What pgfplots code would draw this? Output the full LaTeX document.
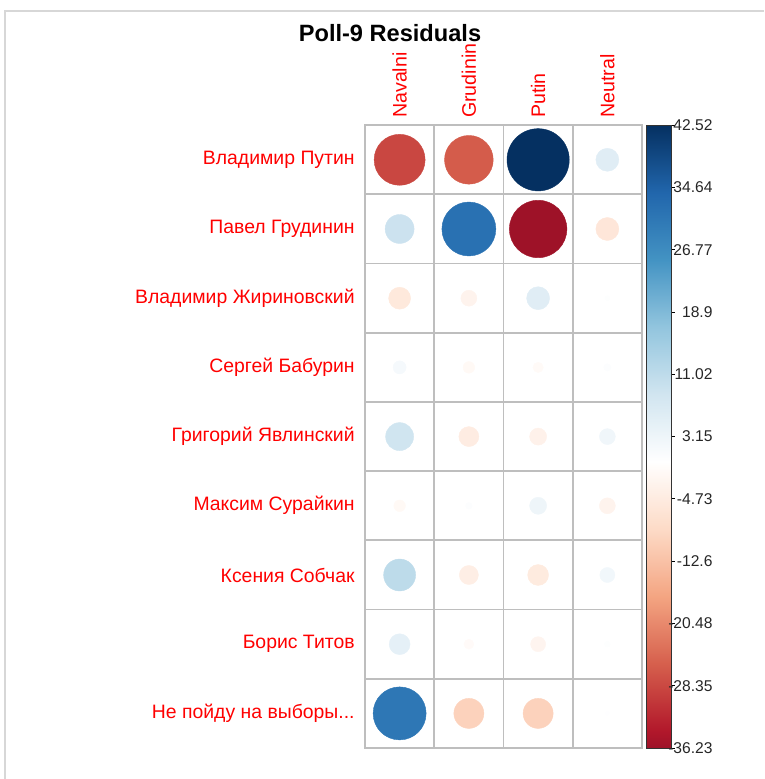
\documentclass[border=0pt]{standalone}
\usepackage{pgfplots}
\usepackage{pgfplotstable}
\pgfplotsset{compat=1.18}
\usepackage{fontspec}
\setmainfont{Liberation Sans}

\definecolor{gridgray}{RGB}{190,190,190}
\definecolor{framegray}{RGB}{215,215,215}
\definecolor{labelred}{RGB}{255,0,0}

% Pearson residuals: column (1..4) x row (1 = bottom .. 9 = top)
\pgfplotstableread{
x y v
1 9 -28.5
2 9 -26.0
3 9 42.52
4 9 5.8
1 8 9.2
2 8 31.9
3 8 -36.23
4 8 -5.8
1 7 -5.3
2 7 -2.8
3 7 5.8
4 7 0.3
1 6 1.9
2 6 -1.5
3 6 -1.2
4 6 0.6
1 5 8.6
2 5 -4.4
3 5 -3.2
4 5 2.8
1 4 -1.5
2 4 0.5
3 4 3.2
4 4 -2.8
1 3 11.2
2 3 -4.0
3 3 -4.8
4 3 2.5
1 2 4.8
2 2 -1.1
3 2 -2.5
4 2 0.4
1 1 30.8
2 1 -9.9
3 1 -9.9
4 1 0.2
}\residuals

% RdBu diverging palette, white at zero, shown from -36.23 to 42.52
\pgfplotsset{
  colormap={rdbu}{
    rgb255(0pt)=(158,18,40);
    rgb255(2.214pt)=(178,24,43);
    rgb255(10.718pt)=(214,96,77);
    rgb255(19.222pt)=(244,165,130);
    rgb255(27.726pt)=(253,219,199);
    rgb255(36.23pt)=(255,255,255);
    rgb255(44.734pt)=(209,229,240);
    rgb255(53.238pt)=(146,197,222);
    rgb255(61.742pt)=(67,147,195);
    rgb255(70.246pt)=(33,102,172);
    rgb255(78.75pt)=(5,48,97)
  }
}

\begin{document}
\begin{tikzpicture}
\useasboundingbox (-182.5pt,-15.5pt) rectangle (199.5pt,374pt);
\draw[draw=framegray, line width=1pt] (-179.8pt,-15.5pt) -- (-179.8pt,368.65pt) -- (199.5pt,368.65pt);
\begin{axis}[
  x=34.625pt, y=34.6pt,
  xmin=0.5, xmax=4.5, ymin=0.5, ymax=9.5,
  axis line style={draw=gridgray, line width=0.9pt},
  xtick={1,2,3,4},
  xticklabels={Navalni,Grudinin,Putin,Neutral},
  ytick={1,2,3,4,5,6,7,8,9},
  yticklabels={Не пойду на выборы.\kern0pt.\kern0pt.,Борис Титов,Ксения Собчак,Максим Сурайкин,Григорий Явлинский,Сергей Бабурин,Владимир Жириновский,Павел Грудинин,Владимир Путин},
  xticklabel pos=upper,
  minor xtick={1.5,2.5,3.5},
  minor ytick={1.5,2.5,3.5,4.5,5.5,6.5,7.5,8.5},
  xminorgrids, yminorgrids,
  minor grid style={draw=gridgray, line width=0.9pt},
  major tick length=0pt, minor tick length=0pt,
  xticklabel style={rotate=90, anchor=west, inner sep=0pt, text=labelred,
    font=\fontsize{9.8}{11}\selectfont},
  yticklabel style={anchor=east, inner sep=0pt, text=labelred,
    font=\fontsize{9.7}{11}\selectfont},
  xticklabel shift=3.5pt, yticklabel shift=5pt,
  colormap name=rdbu,
  point meta min=-36.23, point meta max=42.52,
  colorbar,
  colorbar style={
    at={(parent axis.north east)}, anchor=north west, xshift=-6.5pt,
    width=12.8pt,
    axis line style={draw=black!80, line width=0.4pt},
    xminorgrids=false, yminorgrids=false,
    minor ytick={},
    ytick pos=right,
    ytick={-36.23,-28.35,-20.48,-12.6,-4.73,3.15,11.02,18.9,26.77,34.64,42.52},
    yticklabels={-36.23,-28.35,-20.48,-12.6,-4.73,3.15,11.02,18.9,26.77,34.64,42.52},
    major tick length=1.6pt, tick align=outside,
    major tick style={draw=black, line width=0.5pt},
    yticklabel shift=0pt,
    yticklabel style={anchor=east, inner sep=0pt, xshift=19pt,
      text=black!85, font=\fontsize{7.8}{9}\selectfont},
  },
]
\addplot[scatter, only marks, mark=*, point meta=explicit,
  scatter/use mapped color={draw=mapped color, fill=mapped color},
  visualization depends on={15.57*sqrt(abs(\thisrow{v})/42.52) \as \rad},
  scatter/@pre marker code/.append style={/tikz/mark size=\rad pt},
  mark options={line width=0.2pt}]
  table[x=x, y=y, meta=v] {\residuals};
\end{axis}
\node[font=\bfseries\fontsize{11.8}{14}\selectfont] at (12.5pt,357.5pt) {Poll-9 Residuals};
\end{tikzpicture}
\end{document}
